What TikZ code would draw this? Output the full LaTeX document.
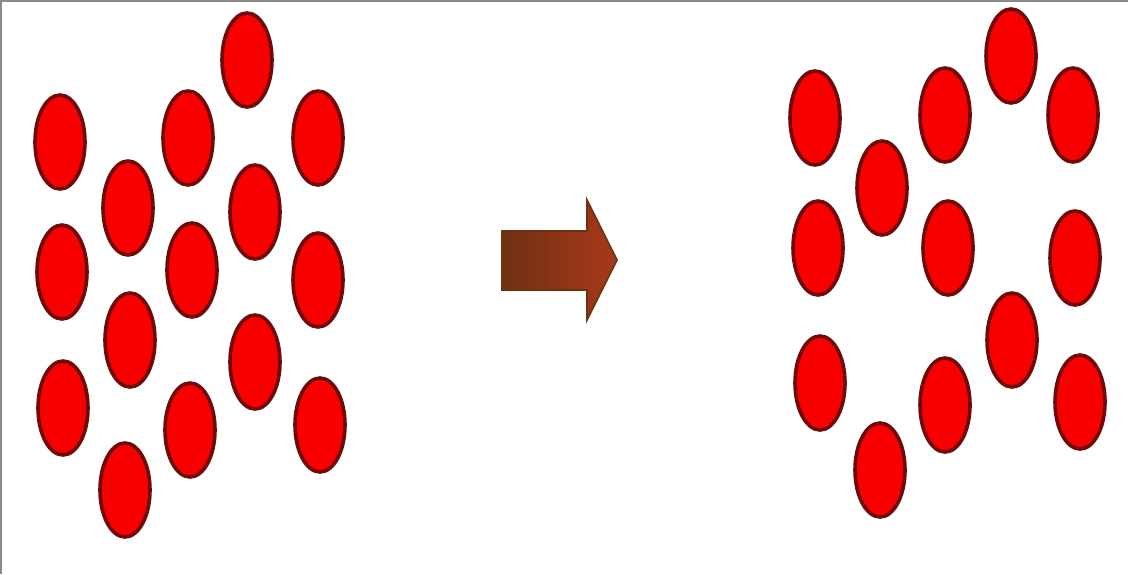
\documentclass[tikz,border=0pt]{standalone}
\usetikzlibrary{shapes.geometric}
\definecolor{dotfill}{HTML}{F80000}
\definecolor{dotedge}{HTML}{6E0C0C}
\definecolor{arrowdark}{HTML}{6E3212}
\definecolor{arrowlight}{HTML}{A8381A}
\definecolor{frame}{HTML}{8A8A8A}
\begin{document}
\begin{tikzpicture}[x=0.5pt,y=-0.5pt,
  dot/.style={ellipse,fill=dotfill,draw=dotedge,line width=1.8pt,
    minimum width=25pt,minimum height=47pt,inner sep=0pt}]
\useasboundingbox[fill=white] (0,0) rectangle (1128,574);
\draw[frame,line width=1.5pt] (0.75,574) -- (0.75,0.75) -- (1128,0.75);
% left group
\foreach \n/\x/\y in {a1/60/142, a2/247/60, a3/188/138, a4/318/138, a5/128/208,
  a6/255/212, a7/62/272, a8/192/270, a9/318/280, a10/130/340, a11/255/362,
  a12/63/408, a13/190/430, a14/320/425, a15/125/490}
  \node[dot] (\n) at (\x,\y) {};
% right group
\foreach \n/\x/\y in {b1/815/118, b2/945/115, b3/1011/56, b4/1073/115, b5/882/188,
  b6/818/248, b7/948/248, b8/1075/258, b9/1012/340, b10/820/383, b11/945/405,
  b12/1080/402, b13/880/470}
  \node[dot] (\n) at (\x,\y) {};
% arrow
\fill[left color=arrowdark,right color=arrowlight,draw=arrowdark,line width=0.8pt]
  (502,231) -- (587,231) -- (587,200) -- (617,260) -- (587,320) -- (587,290)
  -- (502,290) -- cycle;
\end{tikzpicture}
\end{document}
